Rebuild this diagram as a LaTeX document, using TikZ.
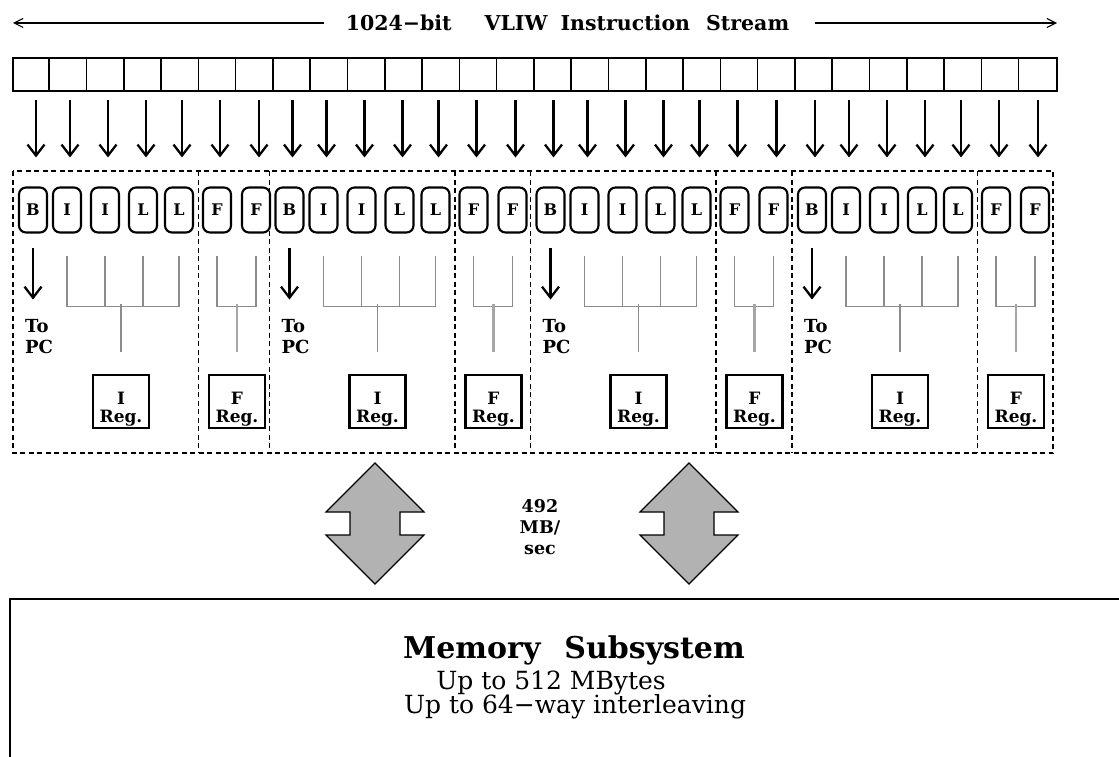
\documentclass[tikz,border=0pt]{standalone}
\usepackage{fontspec}
\setmainfont{DejaVu Serif}
\usetikzlibrary{arrows.meta,calc}
\begin{document}
\begin{tikzpicture}[x=1pt,y=-1pt,
  unitbox/.style={draw,line width=2.1pt,rounded corners=7pt,minimum width=28pt,minimum height=45pt,inner sep=0pt,font=\fontsize{16}{16}\selectfont\bfseries},
  regbox/.style={draw,line width=2.1pt,minimum width=56pt,minimum height=53pt,inner sep=0pt,align=center,font=\fontsize{17}{18}\selectfont\bfseries},
  downarr/.style={line width=2.3pt,-{Straight Barb[length=11pt,width=17pt]}},
  thinarr/.style={line width=1.1pt,-{Straight Barb[length=9pt,width=9pt]}},
  bus/.style={draw=black!45,line width=1.4pt},
  fbus/.style={draw=black!35,line width=2.6pt},
  dashline/.style={line width=1.4pt,dash pattern=on 5pt off 3.5pt},
  lbl/.style={font=\fontsize{18}{21}\selectfont\bfseries,inner sep=0pt,align=left},
  bigarrow/.style={draw,line width=1.1pt,fill=black!30},
]
\useasboundingbox (0,0) rectangle (1119,757);
\fill[white] (0,0) rectangle (1119,757);
% title and its arrows
\node[font=\fontsize{20.5}{20}\selectfont\bfseries,inner sep=0pt] (title) at (567.5,23)
  {1024−bit\hspace{33pt}VLIW\hspace{13pt}Instruction\hspace{16pt}Stream};
\coordinate (tl) at (13,23);
\coordinate (tr) at (1057,23);
\draw[thinarr] ($(title.west)+(-22,0)$) -- (tl);
\draw[thinarr] ($(title.east)+(26,0)$) -- (tr);
% instruction strip
\node[draw,line width=2.2pt,minimum width=1044pt,minimum height=33pt,inner sep=0pt] (strip) at (535,74.5) {};
\foreach \i in {1,...,27}
  \draw[line width=1.6pt] ($(strip.north west)+(\i*37.286,0)$) -- ($(strip.south west)+(\i*37.286,0)$);
% clusters
\draw[dashline] (13,171) rectangle (1053,453);
\foreach \k/\cx in {1/13,2/269.5,3/530.5,4/792}{
  \draw[dashline] (\cx+185.5,171) -- (\cx+185.5,453);
  \ifnum\k>1 \draw[dashline] (\cx,171) -- (\cx,453); \fi
  \foreach \j/\off/\lab in {1/20/B,2/54/I,3/92/I,4/130/L,5/166/L,6/204/F,7/243/F}{
    \node[unitbox] (u\k\j) at (\cx+\off,210) {\lab};
    \draw[downarr] ($(u\k\j.north)+(3,-86)$) -- ($(u\k\j.north)+(3,-29)$);
  }
  \node[lbl,anchor=north west] (pc\k) at (\cx+12,319) {To\\PC};
  \draw[downarr] ($(u\k1.south)+(0,14)$) -- ($(u\k1.south)+(0,66)$);
  \node[regbox] (ir\k) at (\cx+108,401.5) {\rule{0pt}{28pt}I\\Reg.};
  \node[regbox] (fr\k) at (\cx+224,401.5) {\rule{0pt}{28pt}F\\Reg.};
  \draw[bus] ($(u\k2.south)+(0,22)$) |- ($(u\k5.south)+(0,73)$) -- ($(u\k5.south)+(0,22)$);
  \draw[bus] ($(u\k3.south)+(0,22)$) -- ($(u\k3.south)+(0,73)$);
  \draw[bus] ($(u\k4.south)+(0,22)$) -- ($(u\k4.south)+(0,73)$);
  \draw[bus] ($(ir\k.north)+(0,-22)$) -- ($(ir\k.north)+(0,-70)$);
  \draw[bus] ($(u\k6.south)+(0,22)$) |- ($(u\k7.south)+(0,73)$) -- ($(u\k7.south)+(0,22)$);
  \draw[fbus] ($(fr\k.north)+(0,-22)$) -- ($(fr\k.north)+(0,-70)$);
}
% bandwidth arrows
\foreach \c in {375,689}{
  \draw[bigarrow] (\c,463) -- (\c+49,512) -- (\c+25,512) -- (\c+25,535) -- (\c+49,535)
    -- (\c,584) -- (\c-49,535) -- (\c-25,535) -- (\c-25,512) -- (\c-49,512) -- cycle;
}
\node[font=\fontsize{17.5}{21}\selectfont\bfseries,align=center,inner sep=0pt] (rate) at (540,527) {492\\MB/\\sec};
% memory subsystem
\draw[line width=2.4pt] (10,757) -- (10,599) -- (1119,599);
\node[font=\fontsize{30}{30}\selectfont\bfseries,inner sep=0pt] (memt) at (574,650) {Memory\hspace{24pt}Subsystem};
\node[font=\fontsize{25}{25}\selectfont,inner sep=0pt] (m1) at (551,683) {Up to 512 MBytes};
\node[font=\fontsize{25}{25}\selectfont,inner sep=0pt] (m2) at (575,707) {Up to 64−way interleaving};
\end{tikzpicture}
\end{document}
